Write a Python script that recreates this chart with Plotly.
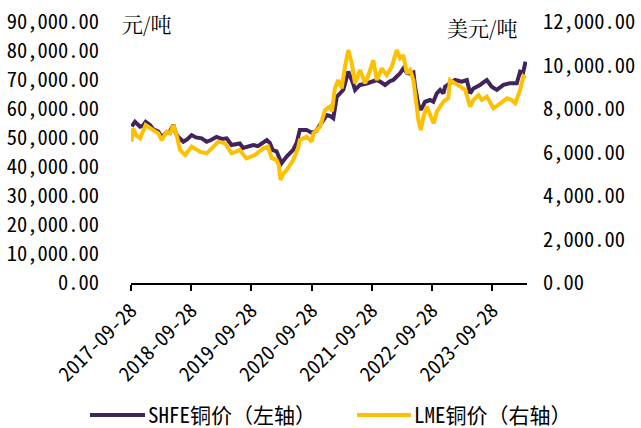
import plotly.graph_objects as go

# SHFE copper, CNY/t (left axis)
shfe_dates = [
    "2017-10-02", "2017-10-22", "2017-11-22", "2017-12-10", "2017-12-26", "2018-01-21",
    "2018-02-10", "2018-03-13", "2018-04-02", "2018-05-03", "2018-05-23", "2018-06-12",
    "2018-06-28", "2018-07-12", "2018-08-11", "2018-09-03", "2018-10-01", "2018-10-27",
    "2018-12-01", "2018-12-31", "2019-01-26", "2019-03-01", "2019-04-02", "2019-05-01",
    "2019-05-31", "2019-06-26", "2019-07-20", "2019-08-09", "2019-09-09", "2019-10-09",
    "2019-11-06", "2019-12-09", "2019-12-31", "2020-01-18", "2020-02-05", "2020-02-28",
    "2020-03-13", "2020-03-29", "2020-04-29", "2020-06-08", "2020-06-30", "2020-07-18",
    "2020-08-28", "2020-09-28", "2020-10-24", "2020-11-18", "2020-12-28", "2021-01-17",
    "2021-02-06", "2021-02-27", "2021-03-19", "2021-04-08", "2021-05-08", "2021-05-19",
    "2021-06-08", "2021-06-18", "2021-07-18", "2021-08-28", "2021-09-29", "2021-10-28",
    "2021-11-23", "2021-12-17", "2022-01-16", "2022-02-05", "2022-02-26", "2022-03-18",
    "2022-04-07", "2022-04-28", "2022-05-18", "2022-06-07", "2022-06-17", "2022-07-07",
    "2022-07-22", "2022-08-17", "2022-09-16", "2022-10-06", "2022-10-27", "2022-11-16",
    "2022-12-06", "2022-12-16", "2023-01-15", "2023-02-15", "2023-03-27", "2023-04-27",
    "2023-05-17", "2023-06-06", "2023-07-16", "2023-08-26", "2023-09-25", "2023-10-26",
    "2023-12-05", "2024-01-14", "2024-02-24", "2024-03-15", "2024-04-02", "2024-04-17",
]
shfe_price = [
    54000, 55600, 53900, 54300, 55600, 54500,
    53000, 52200, 50300, 52000, 52400, 54500,
    51500, 50400, 48700, 49500, 51000, 50200,
    49900, 48700, 49300, 50400, 49700, 49900,
    47600, 47800, 48100, 46600, 47200, 47600,
    47200, 48700, 49300, 48300, 45800, 45400,
    43800, 41300, 43600, 45900, 48500, 52800,
    52800, 51800, 52400, 54400, 57900, 57600,
    56800, 64200, 65400, 66600, 72900, 71500,
    68500, 66600, 68300, 68800, 69300, 70000,
    69200, 68300, 69600, 70000, 71200, 72300,
    74000, 72500, 72200, 72600, 67700, 61400,
    59700, 62500, 63100, 62500, 65400, 66600,
    65400, 67700, 68900, 70000, 69400, 70000,
    65400, 67100, 68300, 70000, 67700, 66600,
    68300, 68900, 68900, 72900, 72500, 76300,
]

# LME copper, USD/t (right axis)
lme_dates = [
    "2017-09-30", "2017-10-12", "2017-10-28", "2017-11-22", "2017-12-26", "2018-01-21",
    "2018-02-10", "2018-03-13", "2018-04-02", "2018-05-03", "2018-05-23", "2018-06-12",
    "2018-07-02", "2018-07-22", "2018-08-22", "2018-10-01", "2018-10-27", "2018-11-20",
    "2018-12-31", "2019-01-30", "2019-03-12", "2019-04-22", "2019-05-31", "2019-07-20",
    "2019-08-29", "2019-10-19", "2019-12-09", "2020-01-07", "2020-01-29", "2020-02-28",
    "2020-03-13", "2020-03-23", "2020-04-06", "2020-04-29", "2020-06-08", "2020-07-07",
    "2020-07-18", "2020-08-28", "2020-09-28", "2020-10-08", "2020-11-18", "2020-12-18",
    "2021-01-17", "2021-01-29", "2021-02-16", "2021-03-08", "2021-03-29", "2021-04-18",
    "2021-05-08", "2021-05-29", "2021-06-18", "2021-07-18", "2021-08-18", "2021-09-07",
    "2021-10-07", "2021-10-28", "2021-11-27", "2021-12-27", "2022-01-27", "2022-02-26",
    "2022-03-18", "2022-04-07", "2022-04-28", "2022-05-18", "2022-06-07", "2022-06-27",
    "2022-07-07", "2022-07-22", "2022-08-07", "2022-08-28", "2022-09-27", "2022-10-07",
    "2022-10-27", "2022-11-16", "2022-12-06", "2023-01-04", "2023-01-15", "2023-02-15",
    "2023-03-17", "2023-04-17", "2023-05-17", "2023-06-06", "2023-07-07", "2023-07-27",
    "2023-08-26", "2023-10-06", "2023-11-16", "2023-12-27", "2024-01-22", "2024-02-15",
    "2024-03-15", "2024-04-04", "2024-04-17",
]
lme_price = [
    6500, 7110, 6800, 6650, 7260, 7150,
    7030, 6880, 6570, 6960, 6880, 7260,
    6800, 6115, 5885, 6270, 6150, 6040,
    5960, 6190, 6500, 6420, 5960, 6115,
    5730, 5880, 6190, 6270, 5750, 5650,
    5400, 4740, 5000, 5190, 5650, 6200,
    6575, 6730, 6500, 6880, 7190, 7950,
    8110, 7900, 8950, 9330, 8950, 9950,
    10710, 10100, 9180, 9790, 9180, 9560,
    10250, 9330, 9870, 9560, 9950, 10710,
    10330, 10480, 9640, 9800, 9330, 8110,
    7490, 7030, 7650, 8110, 7490, 7340,
    7880, 8110, 8340, 8500, 9330, 9180,
    9030, 8880, 8110, 8420, 8640, 8420,
    8570, 8030, 8260, 8490, 8420, 8260,
    8880, 9490, 9400,
]

x_ticks = ["2017-09-28", "2018-09-28", "2019-09-28", "2020-09-28",
           "2021-09-28", "2022-09-28", "2023-09-28"]
left_ticks = [0, 10000, 20000, 30000, 40000, 50000, 60000, 70000, 80000, 90000]
right_ticks = [0, 2000, 4000, 6000, 8000, 10000, 12000]

series_names = ["SHFE铜价（左轴）", "LME铜价（右轴）"]

MONO = "Noto Sans Mono CJK SC, Noto Sans CJK SC, DejaVu Sans Mono, sans-serif"
SERIF = "Noto Serif CJK SC, Noto Sans CJK SC, sans-serif"
PURPLE = "#41245C"
GOLD = "#FFC000"

fig = go.Figure()
fig.add_trace(go.Scatter(
    x=shfe_dates, y=shfe_price, name=series_names[0], mode="lines",
    line=dict(color=PURPLE, width=4), yaxis="y", showlegend=False,
))
fig.add_trace(go.Scatter(
    x=lme_dates, y=lme_price, name=series_names[1], mode="lines",
    line=dict(color=GOLD, width=4), yaxis="y2", showlegend=False,
))

# legend row under the date labels: sample stroke + label for each series
stroke_y = -0.506
label_y = -0.502
legend_items = [(-0.1035, 0.0354, 0.0379, PURPLE), (0.5707, 0.7071, 0.7096, GOLD)]
shapes = []
annotations = []
for name, (x0, x1, xt, col) in zip(series_names, legend_items):
    shapes.append(dict(type="line", xref="paper", yref="paper",
                       x0=x0, x1=x1, y0=stroke_y, y1=stroke_y,
                       line=dict(color=col, width=4)))
    annotations.append(dict(text=name, xref="paper", yref="paper",
                            x=xt, y=label_y, xanchor="left", yanchor="middle",
                            showarrow=False, font=dict(family=MONO, size=21)))

# unit captions for both value axes
annotations.append(dict(text="元/吨", xref="paper", yref="paper", x=-0.028, y=0.995,
                        xanchor="left", yanchor="middle", showarrow=False,
                        font=dict(family=SERIF, size=21)))
annotations.append(dict(text="美元/吨", xref="paper", yref="paper", x=0.98, y=0.98,
                        xanchor="right", yanchor="middle", showarrow=False,
                        font=dict(family=SERIF, size=21)))

fig.update_layout(
    width=641, height=428,
    margin=dict(l=131, r=114, t=22, b=145),
    paper_bgcolor="white", plot_bgcolor="white",
    font=dict(family=MONO, size=20, color="#000000"),
    showlegend=False,
    shapes=shapes,
    annotations=annotations,
    xaxis=dict(
        type="date", range=["2017-09-28", "2024-04-26"],
        tickvals=x_ticks, ticktext=x_ticks, tickangle=-45,
        showline=True, linecolor="#000000", linewidth=2,
        ticks="outside", ticklen=6, tickwidth=2, tickcolor="#000000",
        showgrid=False, zeroline=False, tickfont=dict(size=20),
        automargin=False,
    ),
    yaxis=dict(
        range=[0, 90000], tickvals=left_ticks, tickformat=",.2f",
        showgrid=False, zeroline=False, showline=False,
        ticklabelstandoff=31, tickfont=dict(size=20.5), automargin=False,
    ),
    yaxis2=dict(
        range=[0, 12000], tickvals=right_ticks, tickformat=",.2f",
        overlaying="y", side="right",
        showgrid=False, zeroline=False, showline=False,
        ticklabelstandoff=15, tickfont=dict(size=20.5), automargin=False,
    ),
)

fig.write_html("out.html")
